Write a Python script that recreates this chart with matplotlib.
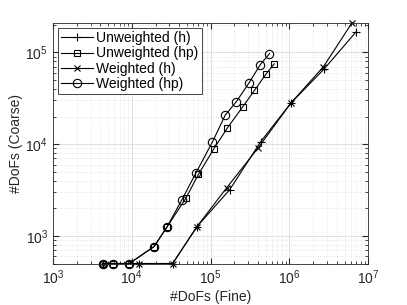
import matplotlib
matplotlib.use('Agg')
import matplotlib.pyplot as plt
from matplotlib.ticker import LogLocator, NullFormatter

plt.rcParams['font.family'] = ['Liberation Sans', 'DejaVu Sans']

# data
uw_h_fine = [4.35e3, 1.24e4, 3.3e4, 6.7e4, 1.75e5, 4.3e5, 1.04e6, 2.75e6, 7.05e6]
uw_h_coarse = [500, 500, 500, 1.26e3, 3.2e3, 1.06e4, 2.8e4, 6.6e4, 1.69e5]
uw_hp_fine = [4.35e3, 5.8e3, 9.3e3, 1.92e4, 2.78e4, 4.84e4, 7.0e4, 1.09e5, 1.63e5,
              2.54e5, 3.6e5, 5.0e5, 6.4e5]
uw_hp_coarse = [500, 500, 500, 766, 1.24e3, 2.57e3, 4.68e3, 8.8e3, 1.5e4,
                2.54e4, 3.86e4, 5.76e4, 7.5e4]
w_h_fine = [4.35e3, 1.24e4, 3.3e4, 6.7e4, 1.6e5, 4.0e5, 1.04e6, 2.7e6, 6.2e6]
w_h_coarse = [500, 500, 500, 1.26e3, 3.35e3, 9.1e3, 2.8e4, 7.0e4, 2.1e5]
w_hp_fine = [4.35e3, 5.8e3, 9.3e3, 1.92e4, 2.78e4, 4.3e4, 6.55e4, 1.05e5, 1.53e5,
             2.11e5, 3.08e5, 4.26e5, 5.58e5]
w_hp_coarse = [500, 500, 500, 766, 1.24e3, 2.46e3, 4.9e3, 1.05e4, 2.07e4,
               2.89e4, 4.68e4, 7.35e4, 9.7e4]

fig = plt.figure(figsize=(4.07, 3.05), dpi=100)
ax = fig.add_axes([0.130, 0.136, 0.775, 0.789])

style = dict(color='black', lw=0.8, mfc='none', mew=0.8, ms=6, clip_on=False)
ax.plot(uw_h_fine, uw_h_coarse, marker='+', label='Unweighted (h)', **style)
ax.plot(uw_hp_fine, uw_hp_coarse, marker='s', label='Unweighted (hp)', **dict(style, ms=5))
ax.plot(w_h_fine, w_h_coarse, marker='x', label='Weighted (h)', **dict(style, ms=5))
ax.plot(w_hp_fine, w_hp_coarse, marker='o', label='Weighted (hp)', **style)

ax.set_xscale('log')
ax.set_yscale('log')
ax.set_xlim(1e3, 1e7)
ax.set_ylim(500, 2.1e5)

ax.xaxis.set_minor_locator(LogLocator(base=10, subs=range(2, 10)))
ax.yaxis.set_minor_locator(LogLocator(base=10, subs=range(2, 10)))
ax.xaxis.set_minor_formatter(NullFormatter())
ax.yaxis.set_minor_formatter(NullFormatter())

ax.grid(True, which='major', color='#dcdcdc', lw=0.6, ls='-')
ax.grid(True, which='minor', color='#d4d4d4', lw=0.5, ls=(0, (1, 2)))
ax.set_axisbelow(True)

for s in ax.spines.values():
    s.set_color('#262626')
    s.set_linewidth(0.6)
ax.tick_params(which='both', direction='in', top=True, right=True,
               colors='#262626', labelsize=10)
ax.tick_params(which='major', length=4)
ax.tick_params(which='minor', length=2)

ax.set_xlabel('#DoFs (Fine)', fontsize=10, color='#262626', labelpad=2)
ax.set_ylabel('#DoFs (Coarse)', fontsize=10, color='#262626', labelpad=2)

leg = ax.legend(loc='upper left', fontsize=10, frameon=True, fancybox=False,
                edgecolor='#262626', framealpha=1, borderpad=0.25,
                labelspacing=0.08, handlelength=2.3, handletextpad=0.2,
                borderaxespad=0.36)
leg.get_frame().set_linewidth(0.6)

fig.savefig('out.png', dpi=100)
